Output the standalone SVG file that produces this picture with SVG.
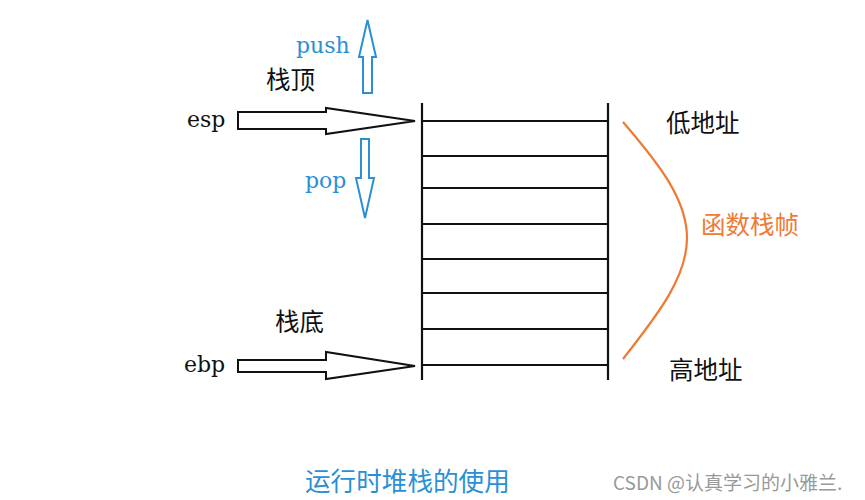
<svg xmlns="http://www.w3.org/2000/svg" width="865" height="500" viewBox="0 0 865 500">
<style>
.lat{font-family:"DejaVu Serif","Liberation Serif",serif;font-size:22px}
.cjk{font-family:"Noto Sans CJK SC","Noto Sans",sans-serif;font-size:24.5px}
.blk{fill:#111}
.blue{fill:#2b8fd6}
.org{fill:#ee7a34}
.stk{stroke:#111;stroke-width:2.2;fill:none}
.arr{stroke:#111;stroke-width:2;fill:#fff;stroke-linejoin:miter}
.barr{stroke:#2b8fd6;stroke-width:2;fill:#fff}
</style>
<rect width="865" height="500" fill="#fff"/>
<g id="stack">
<line class="stk" x1="422" y1="103" x2="422" y2="380"/>
<line class="stk" x1="608" y1="103" x2="608" y2="380"/>
<line class="stk" x1="422" y1="121" x2="608" y2="121"/>
<line class="stk" x1="422" y1="156" x2="608" y2="156"/>
<line class="stk" x1="422" y1="188" x2="608" y2="188"/>
<line class="stk" x1="422" y1="224" x2="608" y2="224"/>
<line class="stk" x1="422" y1="259" x2="608" y2="259"/>
<line class="stk" x1="422" y1="293" x2="608" y2="293"/>
<line class="stk" x1="422" y1="329" x2="608" y2="329"/>
<line class="stk" x1="422" y1="365" x2="608" y2="365"/>
</g>
<g id="connectors">
<polygon id="esp-arrow" class="arr" points="238,112 326,112 326,108 415,121 326,134 326,129 238,129"/>
<polygon id="ebp-arrow" class="arr" points="238,360 326,360 326,352 415,366 326,379 326,372 238,372"/>
<polygon id="push-arrow" class="barr" points="363,93 363,57 359,57 367.5,20 376,57 372,57 372,93"/>
<polygon id="pop-arrow" class="barr" points="361,139 369,139 369,178 374,178 365,218 356,178 361,178"/>
<path id="frame-brace" d="M623,122 C660,165 687,200 687,238 C687,276 660,312 623,359" fill="none" stroke="#ee7a34" stroke-width="2.2"/>
</g>
<g id="labels">
<text class="lat blue" x="296" y="53">push</text>
<text class="cjk blk" x="266" y="89">栈顶</text>
<text class="lat blk" x="187" y="127">esp</text>
<text class="lat blue" x="305" y="188">pop</text>
<text class="cjk blk" x="275" y="331">栈底</text>
<text class="lat blk" x="184" y="372">ebp</text>
<text class="cjk blk" x="666" y="132">低地址</text>
<text class="cjk org" x="701" y="234">函数栈帧</text>
<text class="cjk blk" x="669" y="379">高地址</text>
<text class="cjk blue" x="305" y="491" style="font-size:25.6px">运行时堆栈的使用</text>
<text x="613" y="490" style="font-family:'Noto Sans CJK SC','Noto Sans',sans-serif;font-size:19px;fill:#999">CSDN @认真学习的小雅兰.</text>
</g>
</svg>
